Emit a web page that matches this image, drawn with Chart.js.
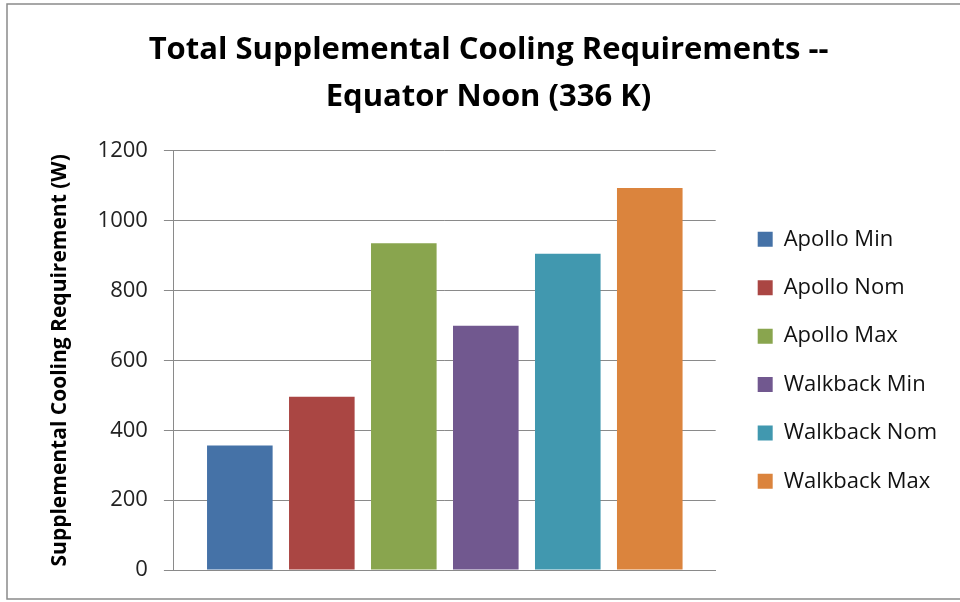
<!DOCTYPE html>
<html>
<head>
<meta charset="utf-8">
<script src="https://cdn.jsdelivr.net/npm/chart.js@4/dist/chart.umd.min.js"></script>
<style>
  html, body { margin: 0; padding: 0; background: #fff; }
  canvas { display: block; }
</style>
</head>
<body>
<canvas id="chart" width="960" height="602"></canvas>
<script>
// Chart content
const categories = [''];
const seriesNames = ['Apollo Min', 'Apollo Nom', 'Apollo Max', 'Walkback Min', 'Walkback Nom', 'Walkback Max'];
const seriesValues = [356, 496, 935, 699, 905, 1093];
const seriesColors = ['#4572A7', '#AA4643', '#89A54E', '#71588F', '#4198AF', '#DB843D'];
const yTicks = [0, 200, 400, 600, 800, 1000, 1200];
const yTickLabels = ['0', '200', '400', '600', '800', '1000', '1200'];
const titleLines = ['Total Supplemental Cooling Requirements --', 'Equator Noon (336 K)'];
const yTitle = 'Supplemental Cooling Requirement (W)';

const FONT = "'Open Sans', Lato, sans-serif";
const AXIS_GREY = '#8a8a8a';

// White background plus the thin grey frame around the chart
const framePlugin = {
  id: 'frame',
  beforeDraw(chart) {
    const ctx = chart.ctx;
    ctx.save();
    ctx.fillStyle = '#fff';
    ctx.fillRect(0, 0, chart.width, chart.height);
    ctx.strokeStyle = AXIS_GREY;
    ctx.lineWidth = 1.5;
    ctx.strokeRect(7, 4, chart.width + 10, 595);
    ctx.restore();
  }
};

const datasets = seriesNames.map((name, i) => ({
  label: name,
  data: [seriesValues[i]],
  backgroundColor: seriesColors[i],
  borderWidth: 0,
  categoryPercentage: 0.908,
  barPercentage: 0.8
}));

new Chart(document.getElementById('chart'), {
  type: 'bar',
  data: { labels: categories, datasets },
  plugins: [framePlugin],
  options: {
    responsive: false,
    animation: false,
    devicePixelRatio: 1,
    layout: { padding: { left: 30, right: 13, top: 0, bottom: 24 } },
    plugins: {
      tooltip: { enabled: false },
      title: {
        display: true,
        text: titleLines,
        color: '#000',
        font: { family: FONT, size: 31, weight: 'bold', lineHeight: 1.52 },
        padding: { top: 26.5, bottom: 30 }
      },
      legend: {
        position: 'right',
        fullSize: false,
        maxWidth: 320,
        labels: {
          boxWidth: 15,
          boxHeight: 15,
          padding: 26.4,
          color: '#111',
          font: { family: FONT, size: 22 }
        }
      }
    },
    scales: {
      x: {
        grid: { display: false },
        ticks: { display: false },
        border: { display: true, color: AXIS_GREY, width: 1 }
      },
      y: {
        min: 0,
        max: 1200,
        afterBuildTicks(scale) {
          scale.ticks = yTicks.map(v => ({ value: v }));
        },
        ticks: {
          color: '#222',
          padding: 16,
          font: { family: FONT, size: 22 },
          callback: (value) => yTickLabels[yTicks.indexOf(value)]
        },
        grid: { color: AXIS_GREY, lineWidth: 1, tickLength: 10 },
        border: { color: AXIS_GREY, width: 1 },
        title: {
          display: true,
          text: yTitle,
          color: '#000',
          font: { family: FONT, size: 21, weight: 'bold' },
          padding: { top: 17.4, bottom: 9 }
        }
      },
      // empty spacer axis keeping a small gap between the plot and the legend
      gap: {
        type: 'linear',
        position: 'right',
        display: true,
        grid: { display: false },
        ticks: { display: false },
        border: { display: false },
        afterFit(scale) { scale.width = 15.6; }
      }
    }
  }
});
</script>
</body>
</html>
